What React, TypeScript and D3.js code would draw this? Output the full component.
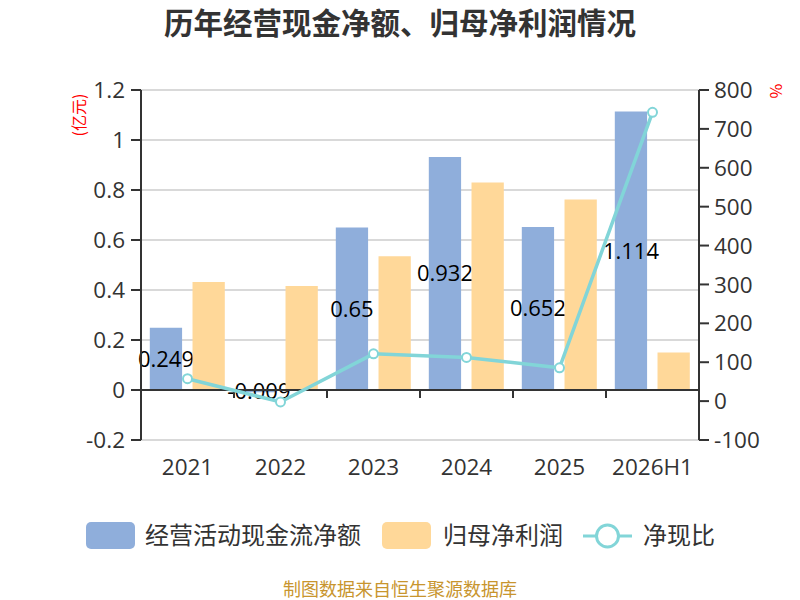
import * as d3 from 'd3';

const categories = ['2021', '2022', '2023', '2024', '2025', '2026H1'];
const cashFlow = [0.249, -0.009, 0.65, 0.932, 0.652, 1.114];
const netProfit = [0.432, 0.416, 0.535, 0.83, 0.762, 0.15];
const cashRatio = [57.6, -2.2, 121.5, 112.3, 85.6, 742.7];
const leftTicks = [-0.2, 0, 0.2, 0.4, 0.6, 0.8, 1, 1.2];
const rightTicks = [-100, 0, 100, 200, 300, 400, 500, 600, 700, 800];

const FONT = '"Noto Sans CJK SC", "Noto Sans", sans-serif';
const NUM_FONT = '"Open Sans", "Noto Sans CJK SC", sans-serif';
const BLUE = '#8FAEDB';
const ORANGE = '#FFD899';
const TEAL = '#82D5D8';

export default function App() {
  const width = 800;
  const height = 600;
  const left = 141;
  const right = 699;
  const top = 90;
  const bottom = 440;

  const x = d3.scaleBand<string>().domain(categories).range([left, right]);
  const inner = d3.scaleBand<string>().domain(['cash', 'profit']).range([8.8, 83.8]).paddingInner(0.244);
  const yL = d3.scaleLinear().domain([-0.2, 1.2]).range([bottom, top]);
  const yR = d3.scaleLinear().domain([-100, 800]).range([bottom, top]);

  const cx = (i: number) => (x(categories[i]) as number) + x.bandwidth() / 2;
  const line = d3.line<number>()
    .x((_, i) => cx(i))
    .y(d => yR(d));

  const zero = yL(0);

  return (
    <svg width={width} height={height} style={{ position: 'absolute', left: 0, top: 0, fontFamily: FONT }}>
      <rect width={width} height={height} fill="#fff" />
      <text x={400} y={23} dy="0.36em" textAnchor="middle" fontSize={29.5} fontWeight="bold" fill="#333">
        历年经营现金净额、归母净利润情况
      </text>

      {/* grid */}
      {leftTicks.map(t => (
        <line key={t} x1={left} x2={right} y1={yL(t)} y2={yL(t)} stroke="#ccc" strokeWidth={1.5} />
      ))}

      {/* cash flow bars + labels */}
      {cashFlow.map((v, i) => {
        const bx = (x(categories[i]) as number) + (inner('cash') as number);
        return (
          <rect key={i} x={bx} y={Math.min(yL(v), zero)} width={inner.bandwidth()}
            height={Math.abs(yL(v) - zero)} fill={BLUE} />
        );
      })}
      {cashFlow.map((v, i) => {
        const bx = (x(categories[i]) as number) + (inner('cash') as number) + inner.bandwidth() / 2;
        return (
          <text key={i} x={bx} y={(yL(v) + zero) / 2} dy="0.36em" textAnchor="middle"
            fontSize={22} fontFamily={NUM_FONT} fill="#000">
            {v}
          </text>
        );
      })}

      {/* net profit bars */}
      {netProfit.map((v, i) => {
        const bx = (x(categories[i]) as number) + (inner('profit') as number);
        return (
          <rect key={i} x={bx} y={Math.min(yL(v), zero)} width={inner.bandwidth()}
            height={Math.abs(yL(v) - zero)} fill={ORANGE} />
        );
      })}

      {/* left axis */}
      <line x1={left} x2={left} y1={top} y2={bottom} stroke="#333" strokeWidth={2} />
      {leftTicks.map(t => (
        <g key={t}>
          <line x1={left - 10} x2={left} y1={yL(t)} y2={yL(t)} stroke="#333" strokeWidth={2} />
          <text x={left - 16} y={yL(t)} dy="0.36em" textAnchor="end" fontSize={22.5}
            fontFamily={NUM_FONT} fill="#333">{t}</text>
        </g>
      ))}
      <text transform={`translate(79,115) rotate(-90)`} textAnchor="middle" dy="0.35em" fontSize={16} fill="#f00">(亿元)</text>

      {/* right axis */}
      <line x1={right} x2={right} y1={top} y2={bottom} stroke="#333" strokeWidth={2} />
      {rightTicks.map(t => (
        <g key={t}>
          <line x1={right} x2={right + 10} y1={yR(t)} y2={yR(t)} stroke="#333" strokeWidth={2} />
          <text x={right + 15} y={yR(t)} dy="0.36em" textAnchor="start" fontSize={22.5}
            fontFamily={NUM_FONT} fill="#333">{t}</text>
        </g>
      ))}
      <text transform={`translate(776,91) rotate(90)`} textAnchor="middle" dy="0.35em" fontSize={16} fill="#f00">%</text>

      {/* x axis at zero */}
      <line x1={left} x2={right} y1={zero} y2={zero} stroke="#333" strokeWidth={2} />
      {categories.map(c => (
        <g key={c}>
          <line x1={x(c) as number} x2={x(c) as number} y1={zero} y2={zero + 8} stroke="#333" strokeWidth={2} />
          <text x={(x(c) as number) + x.bandwidth() / 2} y={467} dy="0.36em" textAnchor="middle"
            fontSize={22.5} fontFamily={NUM_FONT} fill="#333">{c}</text>
        </g>
      ))}

      {/* ratio line */}
      <path d={line(cashRatio) as string} fill="none" stroke={TEAL} strokeWidth={3.5} />
      {cashRatio.map((v, i) => (
        <circle key={i} cx={cx(i)} cy={yR(v)} r={4.5} fill="#fff" stroke={TEAL} strokeWidth={2} />
      ))}

      {/* legend */}
      <rect x={86} y={522} width={49} height={27} rx={5} fill={BLUE} />
      <text x={145} y={536} dy="0.35em" fontSize={24} fill="#333">经营活动现金流净额</text>
      <rect x={382} y={522} width={49} height={27} rx={5} fill={ORANGE} />
      <text x={443} y={536} dy="0.35em" fontSize={24} fill="#333">归母净利润</text>
      <line x1={583} x2={632} y1={536} y2={536} stroke={TEAL} strokeWidth={3} />
      <circle cx={607.5} cy={536} r={11} fill="#fff" stroke={TEAL} strokeWidth={3} />
      <text x={643} y={536} dy="0.35em" fontSize={24} fill="#333">净现比</text>

      <text x={400} y={590} dy="0.35em" textAnchor="middle" fontSize={18} fill="#C8952E">制图数据来自恒生聚源数据库</text>
    </svg>
  );
}
